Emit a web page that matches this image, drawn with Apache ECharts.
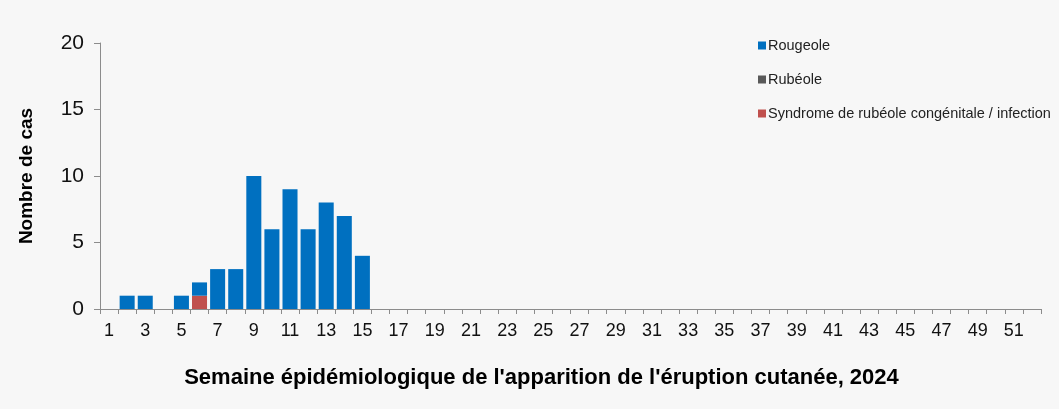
<!DOCTYPE html>
<html>
<head>
<meta charset="utf-8">
<script src="https://cdn.jsdelivr.net/npm/echarts@6/dist/echarts.min.js"></script>
<style>
  html, body { margin: 0; padding: 0; background: #f7f7f7; }
  #chart { width: 1059px; height: 409px; }
</style>
</head>
<body>
<div id="chart"></div>
<script>
// semaines 1 a 52
const weeks = [];
for (let w = 1; w <= 52; w++) weeks.push(String(w));

// valeurs (semaines 1-15, puis zero)
const rougeole = [0, 1, 1, 0, 1, 1, 3, 3, 10, 6, 9, 6, 8, 7, 4,
  0, 0, 0, 0, 0, 0, 0, 0, 0, 0, 0, 0, 0, 0, 0, 0, 0, 0, 0, 0, 0, 0,
  0, 0, 0, 0, 0, 0, 0, 0, 0, 0, 0, 0, 0, 0, 0];
const rubeole = [0, 0, 0, 0, 0, 0, 0, 0, 0, 0, 0, 0, 0, 0, 0,
  0, 0, 0, 0, 0, 0, 0, 0, 0, 0, 0, 0, 0, 0, 0, 0, 0, 0, 0, 0, 0, 0,
  0, 0, 0, 0, 0, 0, 0, 0, 0, 0, 0, 0, 0, 0, 0];
const src = [0, 0, 0, 0, 0, 1, 0, 0, 0, 0, 0, 0, 0, 0, 0,
  0, 0, 0, 0, 0, 0, 0, 0, 0, 0, 0, 0, 0, 0, 0, 0, 0, 0, 0, 0, 0, 0,
  0, 0, 0, 0, 0, 0, 0, 0, 0, 0, 0, 0, 0, 0, 0];

const yTicks = [0, 5, 10, 15, 20];

const chart = echarts.init(document.getElementById('chart'));
chart.setOption({
  backgroundColor: '#f7f7f7',
  textStyle: { fontFamily: 'Liberation Sans, Arial, sans-serif' },
  animation: false,
  grid: { left: 100, right: 18, top: 43, bottom: 100 },
  legend: {
    orient: 'vertical',
    left: 753,
    top: 33,
    itemGap: 19,
    itemWidth: 8,
    itemHeight: 8,
    icon: 'rect',
    textStyle: { fontSize: 14.5, color: '#222', padding: [0, 0, 0, -3] },
    data: ['Rougeole', 'Rubéole', 'Syndrome de rubéole congénitale / infection']
  },
  xAxis: {
    type: 'category',
    data: weeks,
    name: "Semaine épidémiologique de l'apparition de l'éruption cutanée, 2024",
    nameLocation: 'middle',
    nameGap: 58,
    nameTextStyle: { fontSize: 22, fontWeight: 'bold', color: '#000', padding: [0, 58, 0, 0] },
    axisLine: { lineStyle: { color: '#8c8c8c', width: 1 } },
    axisTick: { show: true, interval: 0, length: 5, lineStyle: { color: '#8c8c8c' } },
    axisLabel: { interval: 1, fontSize: 18, color: '#111', margin: 13 }
  },
  yAxis: {
    type: 'value',
    min: yTicks[0],
    max: yTicks[yTicks.length - 1],
    interval: 5,
    name: 'Nombre de cas',
    nameLocation: 'middle',
    nameGap: 64,
    nameTextStyle: { fontSize: 19, fontWeight: 'bold', color: '#000' },
    splitLine: { show: false },
    axisLine: { show: true, lineStyle: { color: '#8c8c8c' } },
    axisTick: { show: true, length: 6, lineStyle: { color: '#8c8c8c' } },
    axisLabel: { fontSize: 21, color: '#111', margin: 16 }
  },
  series: [
    {
      name: 'Syndrome de rubéole congénitale / infection',
      type: 'bar', stack: 'cas', data: src,
      itemStyle: { color: '#c0504d' },
      barCategoryGap: '17%'
    },
    {
      name: 'Rubéole',
      type: 'bar', stack: 'cas', data: rubeole,
      itemStyle: { color: '#595959' }
    },
    {
      name: 'Rougeole',
      type: 'bar', stack: 'cas', data: rougeole,
      itemStyle: { color: '#0070c0' }
    }
  ]
});
</script>
</body>
</html>
